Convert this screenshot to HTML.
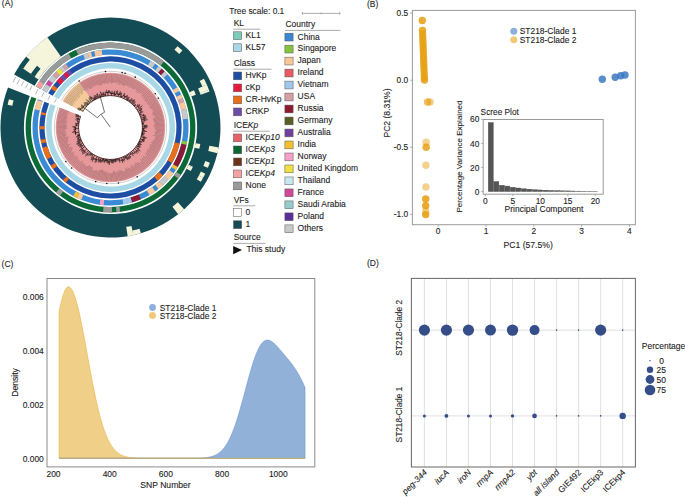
<!DOCTYPE html>
<html><head><meta charset="utf-8"><style>
html,body{margin:0;padding:0;background:#fff;width:685px;height:497px;overflow:hidden}
svg{display:block}
text{font-family:"Liberation Sans",sans-serif;stroke:#1c1c1c;stroke-width:0.1px}
</style></head><body>
<svg width="685" height="497" viewBox="0 0 685 497">
<rect width="685" height="497" fill="#fff"/>
<text x="1.8" y="6.2" font-size="8.5" fill="#1c1c1c">(A)</text>
<path d="M14.11,74.51A110.0,110.0 0 1 1 8.01,87.54L29.82,96.04A86.6,86.6 0 1 0 34.61,85.78Z" fill="#144c56"/>
<path d="M177.50,46.17A105.36999999999999,105.36999999999999 0 0 1 182.39,50.46L179.13,53.96A100.59,100.59 0 0 0 174.46,49.86Z" fill="#f5f5dc"/>
<path d="M203.95,78.81A105.36999999999999,105.36999999999999 0 0 1 206.78,84.68L202.41,86.62A100.59,100.59 0 0 0 199.71,81.02Z" fill="#f5f5dc"/>
<path d="M193.92,90.32A91.33,91.33 0 0 1 195.78,94.80L191.31,96.51A86.55,86.55 0 0 0 189.56,92.27Z" fill="#f5f5dc"/>
<path d="M206.75,84.61A105.36999999999999,105.36999999999999 0 0 1 208.88,89.77L200.05,93.16A95.91,95.91 0 0 0 198.10,88.46Z" fill="#f5f5dc"/>
<path d="M208.86,89.70A105.36999999999999,105.36999999999999 0 0 1 209.53,91.50L200.64,94.73A95.91,95.91 0 0 0 200.03,93.10Z" fill="#f5f5dc"/>
<path d="M200.31,144.11A91.33,91.33 0 0 1 199.30,148.85L194.65,147.73A86.55,86.55 0 0 0 195.61,143.24Z" fill="#f5f5dc"/>
<path d="M218.71,147.52A110.05,110.05 0 0 1 217.50,153.23L208.30,151.02A100.59,100.59 0 0 0 209.41,145.80Z" fill="#f5f5dc"/>
<path d="M209.84,162.64A105.36999999999999,105.36999999999999 0 0 1 207.84,167.86L203.42,166.03A100.59,100.59 0 0 0 205.33,161.04Z" fill="#f5f5dc"/>
<path d="M192.95,166.79A91.33,91.33 0 0 1 192.57,167.57L188.28,165.47A86.55,86.55 0 0 0 188.63,164.73Z" fill="#f5f5dc"/>
<path d="M192.60,167.51A91.33,91.33 0 0 1 190.75,171.11L186.55,168.82A86.55,86.55 0 0 0 188.30,165.41Z" fill="#f5f5dc"/>
<path d="M205.22,173.66A105.36999999999999,105.36999999999999 0 0 1 203.08,177.81L198.88,175.53A100.59,100.59 0 0 0 200.93,171.56Z" fill="#f5f5dc"/>
<path d="M203.12,177.75A105.36999999999999,105.36999999999999 0 0 1 200.80,181.80L196.70,179.34A100.59,100.59 0 0 0 198.92,175.47Z" fill="#f5f5dc"/>
<path d="M184.17,209.26A110.05,110.05 0 0 1 178.22,214.24L172.40,206.79A100.59,100.59 0 0 0 177.83,202.23Z" fill="#f5f5dc"/>
<path d="M140.87,233.28A110.05,110.05 0 0 1 133.34,235.15L132.35,230.48A105.27,105.27 0 0 0 139.55,228.68Z" fill="#f5f5dc"/>
<path d="M133.42,235.14A110.05,110.05 0 0 1 127.68,236.20L126.20,226.86A100.59,100.59 0 0 0 131.45,225.88Z" fill="#f5f5dc"/>
<path d="M7.62,104.73A105.36999999999999,105.36999999999999 0 0 1 8.97,99.31L13.58,100.58A100.59,100.59 0 0 0 12.29,105.76Z" fill="#f5f5dc"/>
<path d="M18.84,66.60A110.05,110.05 0 0 1 47.38,37.35L60.86,56.60A86.55,86.55 0 0 0 38.41,79.60Z" fill="#f5f5dc"/>
<path d="M18.58,66.89A110.1,110.1 0 0 1 19.22,65.93L34.84,76.47A91.26,91.26 0 0 0 34.31,77.26Z" fill="#144c56"/>
<path d="M19.01,66.25A110.1,110.1 0 0 1 26.16,56.73L29.82,59.80A105.32,105.32 0 0 0 22.98,68.91Z" fill="#144c56"/>
<path d="M30.76,74.12A95.96,95.96 0 0 1 36.99,65.82L40.58,68.83A91.28,91.28 0 0 0 34.65,76.72Z" fill="#144c56"/>
<path d="M36.10,86.60A84.9,84.9 0 1 1 31.40,96.66L36.34,98.59A79.6,79.6 0 1 0 40.75,89.15Z" fill="#0b6a36"/>
<path d="M36.24,86.34A84.9,84.9 0 0 1 163.93,61.52L160.59,65.64A79.6,79.6 0 0 0 40.88,88.91Z" fill="#9a9a9a"/>
<path d="M36.24,86.34A84.9,84.9 0 0 1 39.30,81.26L43.74,84.15A79.6,79.6 0 0 0 40.88,88.91Z" fill="#f2a0a0"/>
<path d="M68.69,53.61A84.9,84.9 0 0 1 75.97,49.94L78.12,54.78A79.6,79.6 0 0 0 71.30,58.22Z" fill="#0b6a36"/>
<path d="M180.89,174.98A84.9,84.9 0 0 1 178.30,178.59L174.07,175.40A79.6,79.6 0 0 0 176.49,172.01Z" fill="#9a9a9a"/>
<path d="M120.11,211.85A84.9,84.9 0 0 1 116.42,212.19L116.05,206.91A79.6,79.6 0 0 0 119.51,206.59Z" fill="#9a9a9a"/>
<path d="M111.98,212.39A84.9,84.9 0 0 1 103.10,212.08L103.56,206.80A79.6,79.6 0 0 0 111.89,207.09Z" fill="#9a9a9a"/>
<path d="M60.00,195.75A84.9,84.9 0 0 1 55.93,192.54L59.33,188.48A79.6,79.6 0 0 0 63.15,191.49Z" fill="#9a9a9a"/>
<path d="M42.15,89.92A78.0,78.0 0 1 1 37.83,99.17L42.77,101.09A72.7,72.7 0 1 0 46.79,92.48Z" fill="#3a8ad4"/>
<path d="M42.28,89.68A78.0,78.0 0 0 1 45.84,83.88L50.23,86.85A72.7,72.7 0 0 0 46.92,92.25Z" fill="#c8c8c8"/>
<path d="M45.84,83.88A78.0,78.0 0 0 1 48.62,80.02L52.82,83.24A72.7,72.7 0 0 0 50.23,86.85Z" fill="#d0489a"/>
<path d="M48.62,80.02A78.0,78.0 0 0 1 52.53,75.31L56.47,78.85A72.7,72.7 0 0 0 52.82,83.24Z" fill="#c8c8c8"/>
<path d="M52.53,75.31A78.0,78.0 0 0 1 56.32,71.39L60.00,75.20A72.7,72.7 0 0 0 56.47,78.85Z" fill="#d4a0a4"/>
<path d="M56.32,71.39A78.0,78.0 0 0 1 59.84,68.19L63.29,72.22A72.7,72.7 0 0 0 60.00,75.20Z" fill="#f0e23c"/>
<path d="M59.84,68.19A78.0,78.0 0 0 1 62.48,66.04L65.74,70.21A72.7,72.7 0 0 0 63.29,72.22Z" fill="#c8c8c8"/>
<path d="M62.48,66.04A78.0,78.0 0 0 1 65.76,63.61L68.80,67.95A72.7,72.7 0 0 0 65.74,70.21Z" fill="#d4a0a4"/>
<path d="M83.18,54.44A78.0,78.0 0 0 1 87.70,52.91L89.24,57.98A72.7,72.7 0 0 0 85.04,59.40Z" fill="#c8c8c8"/>
<path d="M87.70,52.91A78.0,78.0 0 0 1 90.97,51.98L92.30,57.12A72.7,72.7 0 0 0 89.24,57.98Z" fill="#f7c99b"/>
<path d="M94.28,51.20A78.0,78.0 0 0 1 101.67,50.00L102.27,55.27A72.7,72.7 0 0 0 95.38,56.39Z" fill="#f7c99b"/>
<path d="M150.67,60.64A78.0,78.0 0 0 1 155.24,63.61L152.20,67.95A72.7,72.7 0 0 0 147.94,65.18Z" fill="#c8c8c8"/>
<path d="M158.52,66.04A78.0,78.0 0 0 1 161.67,68.63L158.20,72.63A72.7,72.7 0 0 0 155.26,70.21Z" fill="#c8c8c8"/>
<path d="M161.67,68.63A78.0,78.0 0 0 1 164.68,71.39L161.00,75.20A72.7,72.7 0 0 0 158.20,72.63Z" fill="#8b1a33"/>
<path d="M164.68,71.39A78.0,78.0 0 0 1 167.55,74.30L163.67,77.92A72.7,72.7 0 0 0 161.00,75.20Z" fill="#c8c8c8"/>
<path d="M177.36,87.33A78.0,78.0 0 0 1 179.37,90.88L174.69,93.37A72.7,72.7 0 0 0 172.82,90.06Z" fill="#f7c99b"/>
<path d="M181.19,94.54A78.0,78.0 0 0 1 182.82,98.28L177.91,100.27A72.7,72.7 0 0 0 176.39,96.78Z" fill="#f7c99b"/>
<path d="M182.82,98.28A78.0,78.0 0 0 1 184.25,102.11L179.24,103.83A72.7,72.7 0 0 0 177.91,100.27Z" fill="#d4a0a4"/>
<path d="M184.25,102.11A78.0,78.0 0 0 1 186.18,108.63L181.04,109.91A72.7,72.7 0 0 0 179.24,103.83Z" fill="#f7c99b"/>
<path d="M186.18,108.63A78.0,78.0 0 0 1 188.00,118.67L182.73,119.27A72.7,72.7 0 0 0 181.04,109.91Z" fill="#c8c8c8"/>
<path d="M187.19,141.71A78.0,78.0 0 0 1 186.50,145.05L181.34,143.85A72.7,72.7 0 0 0 181.98,140.75Z" fill="#8cc43c"/>
<path d="M186.50,145.05A78.0,78.0 0 0 1 177.71,167.09L173.14,164.40A72.7,72.7 0 0 0 181.34,143.85Z" fill="#8b1a33"/>
<path d="M177.71,167.09A78.0,78.0 0 0 1 175.92,169.98L171.47,167.10A72.7,72.7 0 0 0 173.14,164.40Z" fill="#f5c030"/>
<path d="M173.60,173.35A78.0,78.0 0 0 1 168.47,179.69L164.53,176.15A72.7,72.7 0 0 0 169.32,170.23Z" fill="#f7c99b"/>
<path d="M168.47,179.69A78.0,78.0 0 0 1 162.69,185.47L159.15,181.53A72.7,72.7 0 0 0 164.53,176.15Z" fill="#c8c8c8"/>
<path d="M162.69,185.47A78.0,78.0 0 0 1 158.52,188.96L155.26,184.79A72.7,72.7 0 0 0 159.15,181.53Z" fill="#f7c99b"/>
<path d="M155.24,191.39A78.0,78.0 0 0 1 149.50,195.05L146.85,190.46A72.7,72.7 0 0 0 152.20,187.05Z" fill="#f7c99b"/>
<path d="M140.98,199.30A78.0,78.0 0 0 1 132.00,202.48L130.54,197.38A72.7,72.7 0 0 0 138.91,194.42Z" fill="#8b1a33"/>
<path d="M132.00,202.48A78.0,78.0 0 0 1 123.37,204.43L122.50,199.20A72.7,72.7 0 0 0 130.54,197.38Z" fill="#a2c9ec"/>
<path d="M103.70,205.20A78.0,78.0 0 0 1 99.64,204.74L100.38,199.49A72.7,72.7 0 0 0 104.16,199.92Z" fill="#f2a2c8"/>
<path d="M81.28,199.82A78.0,78.0 0 0 1 76.92,197.90L79.20,193.12A72.7,72.7 0 0 0 83.27,194.91Z" fill="#f7c99b"/>
<path d="M76.92,197.90A78.0,78.0 0 0 1 73.28,196.05L75.81,191.39A72.7,72.7 0 0 0 79.20,193.12Z" fill="#f5c030"/>
<path d="M34.66,109.29A78.0,78.0 0 0 1 37.54,99.93L42.49,101.80A72.7,72.7 0 0 0 39.81,110.53Z" fill="#f7c99b"/>
<path d="M48.19,93.25A71.1,71.1 0 1 1 44.26,101.67L49.10,103.56A65.9,65.9 0 1 0 52.75,95.75Z" fill="#1d4ea3"/>
<path d="M50.87,88.78A71.1,71.1 0 0 1 53.35,85.21L57.53,88.30A65.9,65.9 0 0 0 55.23,91.61Z" fill="#e8701c"/>
<path d="M56.44,81.32A71.1,71.1 0 0 1 60.22,77.22L63.90,80.90A65.9,65.9 0 0 0 60.39,84.70Z" fill="#e31b3e"/>
<path d="M60.22,77.22A71.1,71.1 0 0 1 63.39,74.25L66.83,78.14A65.9,65.9 0 0 0 63.90,80.90Z" fill="#6d4ba6"/>
<path d="M63.39,74.25A71.1,71.1 0 0 1 66.24,71.86L69.48,75.93A65.9,65.9 0 0 0 66.83,78.14Z" fill="#e31b3e"/>
<path d="M66.24,71.86A71.1,71.1 0 0 1 69.21,69.62L72.23,73.85A65.9,65.9 0 0 0 69.48,75.93Z" fill="#6d4ba6"/>
<path d="M179.78,143.49A71.1,71.1 0 0 1 172.07,163.05L167.57,160.45A65.9,65.9 0 0 0 174.71,142.32Z" fill="#e8701c"/>
<path d="M162.92,175.53A71.1,71.1 0 0 1 157.61,180.75L154.17,176.86A65.9,65.9 0 0 0 159.09,172.02Z" fill="#e8701c"/>
<path d="M65.76,182.76A71.1,71.1 0 0 1 62.92,180.34L66.40,176.47A65.9,65.9 0 0 0 69.03,178.71Z" fill="#e8701c"/>
<path d="M52.98,169.29A71.1,71.1 0 0 1 50.53,165.70L54.92,162.91A65.9,65.9 0 0 0 57.19,166.24Z" fill="#e8701c"/>
<path d="M46.87,159.22A71.1,71.1 0 0 1 42.33,147.69L47.31,146.22A65.9,65.9 0 0 0 51.52,156.90Z" fill="#e8701c"/>
<path d="M41.22,143.49A71.1,71.1 0 0 1 40.48,139.85L45.60,138.94A65.9,65.9 0 0 0 46.29,142.32Z" fill="#e8701c"/>
<path d="M39.42,129.36A71.1,71.1 0 0 1 39.41,126.26L44.61,126.35A65.9,65.9 0 0 0 44.62,129.23Z" fill="#e8701c"/>
<path d="M40.59,114.54A71.1,71.1 0 0 1 41.09,112.11L46.16,113.24A65.9,65.9 0 0 0 45.70,115.49Z" fill="#e8701c"/>
<path d="M53.98,96.43A64.5,64.5 0 1 1 50.41,104.07L55.53,106.07A59.0,59.0 0 1 0 58.80,99.08Z" fill="#a8d8e6"/>
<path d="M79.07,82.61A54.8,54.8 0 1 1 59.44,107.59L81.15,116.06A31.5,31.5 0 1 0 92.43,101.70Z" fill="#e6989b"/>
<path d="M62.48,101.10A54.8,54.8 0 0 1 79.07,82.61L91.86,100.88A32.5,32.5 0 0 0 82.02,111.84Z" fill="#f5c99a"/>
<path d="M72.23,105.85L63.67,101.01M73.21,105.19L64.34,99.87M72.50,103.48L65.02,98.75M74.55,103.52L65.74,97.65M74.00,101.85L66.48,96.56M75.05,101.27L67.25,95.50M76.43,100.98L68.05,94.45M76.05,99.30L68.87,93.42M77.81,99.39L69.71,92.42M77.63,97.80L70.58,91.43M79.16,97.76L71.47,90.47M79.85,96.96L72.39,89.52M79.91,95.49L73.33,88.60M79.89,93.86L74.29,87.71M82.10,94.72L75.27,86.84M82.72,93.80L76.28,85.99M82.81,92.18L77.30,85.16M83.10,90.74L78.35,84.36M84.65,90.99L79.41,83.59M85.85,90.82L80.49,82.85M85.82,88.76L81.59,82.13M88.22,90.56L82.71,81.43M87.92,87.91L83.84,80.77M89.70,88.87L84.99,80.13M90.85,88.77L86.16,79.52M91.84,88.37L87.34,78.94M92.56,87.40L88.53,78.39M92.96,85.57L89.74,77.87M94.68,86.93L90.96,77.38M95.27,85.43L92.19,76.91M96.25,84.90L93.43,76.48M97.53,85.33L94.68,76.08M98.42,84.52L95.94,75.71M99.83,85.65L97.21,75.37M100.86,85.41L98.49,75.06M101.80,84.76L99.77,74.78M102.60,83.16L101.07,74.53M103.80,83.73L102.36,74.32M104.92,83.91L103.66,74.14M105.90,82.98L104.97,73.98M107.02,83.28L106.28,73.87M108.13,83.66L107.59,73.78M109.15,82.14L108.90,73.72M110.26,82.40L110.22,73.70M111.34,83.78L111.53,73.71M112.45,82.82L112.85,73.75M113.53,83.03L114.16,73.82M114.71,82.07L115.47,73.93M115.77,82.62L116.78,74.07M116.68,84.07L118.08,74.24M118.08,82.19L119.38,74.44M118.70,84.93L120.67,74.67M119.93,84.26L121.96,74.93M121.22,83.52L123.24,75.23M121.82,85.54L124.52,75.56M123.13,84.86L125.78,75.92M123.75,86.47L127.04,76.30M125.37,85.02L128.28,76.72M126.51,85.13L129.52,77.17M127.32,86.07L130.74,77.65M128.69,85.66L131.95,78.16M129.00,87.64L133.15,78.70M130.48,87.08L134.34,79.27M131.32,87.85L135.51,79.87M132.26,88.41L136.66,80.49M133.02,89.27L137.81,81.14M134.55,88.85L138.93,81.83M135.66,89.19L140.04,82.53M135.79,90.98L141.13,83.27M137.01,91.15L142.20,84.03M136.79,93.24L143.25,84.82M138.82,92.40L144.28,85.63M139.57,93.22L145.30,86.47M141.09,93.17L146.29,87.33M141.57,94.30L147.26,88.22M141.24,96.22L148.21,89.13M142.21,96.77L149.14,90.06M143.58,96.98L150.04,91.02M142.86,99.08L150.92,91.99M144.55,99.03L151.77,92.99M144.55,100.42L152.60,94.01M145.08,101.35L153.41,95.05M145.56,102.30L154.19,96.11M147.93,101.97L154.94,97.18M146.93,103.93L155.67,98.28M147.80,104.64L156.37,99.39M148.72,105.35L157.05,100.52M150.51,105.59L157.69,101.66M148.93,107.67L158.31,102.82M150.39,108.13L158.90,104.00M151.13,108.98L159.46,105.19M152.49,109.59L159.99,106.39M152.74,110.69L160.49,107.61M153.26,111.68L160.96,108.83M151.97,113.30L161.40,110.07M152.70,114.20L161.81,111.32M152.85,115.28L162.19,112.58M154.66,115.92L162.54,113.85M155.14,116.95L162.86,115.12M153.02,118.54L163.14,116.41M153.30,119.57L163.40,117.70M153.65,120.59L163.62,118.99M153.81,121.64L163.81,120.29M154.69,122.62L163.98,121.60M155.10,123.68L164.10,122.90M154.21,124.83L164.20,124.22M153.48,125.92L164.26,125.53M154.75,126.96L164.30,126.84M154.60,128.04L164.30,128.16M155.17,129.14L164.26,129.47M156.27,130.30L164.20,130.78M155.41,131.35L164.10,132.10M154.78,132.39L163.98,133.40M154.95,133.51L163.81,134.71M154.96,134.62L163.62,136.01M152.94,135.37L163.40,137.30M155.22,136.92L163.14,138.59M154.62,137.93L162.86,139.88M154.63,139.08L162.54,141.15M154.11,140.09L162.19,142.42M152.63,140.78L161.81,143.68M152.31,141.82L161.40,144.93M151.12,142.53L160.96,146.17M152.22,144.10L160.49,147.39M150.22,144.44L159.99,148.61M149.81,145.42L159.46,149.81M149.74,146.56L158.90,151.00M149.14,147.45L158.31,152.18M149.11,148.64L157.69,153.34M147.84,149.14L157.05,154.48M147.16,149.97L156.37,155.61M146.98,151.10L155.67,156.72M146.27,151.90L154.94,157.82M146.31,153.23L154.19,158.89M144.86,153.48L153.41,159.95M146.20,155.90L152.60,160.99M144.90,156.26L151.77,162.01M143.14,156.17L150.92,163.01M142.66,157.17L150.04,163.98M142.13,158.15L149.14,164.94M141.40,158.95L148.21,165.87M140.13,159.17L147.26,166.78M140.80,161.51L146.29,167.67M140.24,162.57L145.30,168.53M138.38,162.05L144.28,169.37M137.56,162.77L143.25,170.18M135.99,162.45L142.20,170.97M135.15,163.10L141.13,171.73M134.67,164.30L140.04,172.47M133.64,164.68L138.93,173.17M133.59,166.69L137.81,173.86M131.65,165.50L136.66,174.51M130.52,165.63L135.51,175.13M130.82,168.61L134.34,175.73M129.27,167.94L133.15,176.30M127.82,167.34L131.95,176.84M127.29,168.85L130.74,177.35M125.73,167.80L129.52,177.83M125.24,169.58L128.28,178.28M124.62,171.21L127.04,178.70M123.45,171.21L125.78,179.08M122.25,171.03L124.52,179.44M120.87,170.04L123.24,179.77M119.89,170.59L121.96,180.07M118.73,170.22L120.67,180.33M117.98,172.19L119.38,180.56M116.78,171.65L118.08,180.76M115.79,172.53L116.78,180.93M114.56,171.30L115.47,181.07M113.47,171.07L114.16,181.18M112.48,172.89L112.85,181.25M111.38,173.45L111.53,181.29M110.26,173.06L110.22,181.30M109.15,172.90L108.90,181.28M108.04,172.89L107.59,181.22M106.95,172.58L106.28,181.13M106.01,170.95L104.97,181.02M104.84,171.69L103.66,180.86M103.83,171.06L102.36,180.68M102.94,169.92L101.07,180.47M101.91,169.72L99.77,180.22M100.71,170.23L98.49,179.94M99.69,169.92L97.21,179.63M98.30,170.90L95.94,179.29M97.01,171.34L94.68,178.92M96.43,169.55L93.43,178.52M94.91,170.58L92.19,178.09M93.80,170.32L90.96,177.62M92.80,169.81L89.74,177.13M92.50,167.75L88.53,176.61M91.70,166.91L87.34,176.06M90.74,166.45L86.16,175.48M89.83,165.88L84.99,174.87M88.89,165.38L83.84,174.23M87.32,165.92L82.71,173.57M85.94,166.04L81.59,172.87M85.11,165.28L80.49,172.15M84.82,163.77L79.41,171.41M83.63,163.55L78.35,170.64M82.49,163.23L77.30,169.84M82.99,160.88L76.28,169.01M81.05,161.50L75.27,168.16M79.72,161.32L74.29,167.29M79.17,160.28L73.33,166.40M78.45,159.44L72.39,165.48M78.27,158.09L71.47,164.53M78.20,156.69L70.58,163.57M76.11,157.08L69.71,162.58M76.45,155.37L68.87,161.58M74.67,155.39L68.05,160.55M73.59,154.81L67.25,159.50M74.35,152.91L66.48,158.44M73.72,152.03L65.74,157.35M71.75,151.99L65.02,156.25M71.74,150.70L64.34,155.13M72.63,148.93L63.67,153.99M72.23,147.93L63.04,152.84M71.68,147.02L62.44,151.67M69.17,147.04L61.86,150.49M68.98,145.90L61.31,149.30M70.37,144.12L60.80,148.09M68.07,143.87L60.31,146.87M67.25,142.99L59.85,145.64M67.80,141.62L59.42,144.39M68.35,140.31L59.02,143.14M67.48,139.43L58.66,141.88M68.41,138.07L58.32,140.61M68.51,136.96L58.02,139.33M65.48,136.50L57.74,138.04M66.22,135.23L57.50,136.75M66.41,134.09L57.29,135.45M65.05,133.16L57.11,134.15M66.42,131.90L56.97,132.84M65.01,130.92L56.85,131.53M65.08,129.80L56.77,130.22M66.88,128.64L56.72,128.91M66.74,127.58L56.70,127.59M66.63,126.50L56.71,126.28M66.83,125.44L56.76,124.97M65.86,124.30L56.84,123.65M66.92,123.30L56.95,122.34M66.56,122.18L57.09,121.04M67.56,121.24L57.26,119.73M65.42,119.79L57.47,118.44M67.26,119.02L57.71,117.14M67.18,117.90L57.98,115.86M67.06,116.75L58.28,114.58M66.41,115.44L58.61,113.30M68.10,114.78L58.97,112.04M67.01,113.29L59.36,110.79M68.55,112.64L59.79,109.54M68.84,111.59L60.24,108.31" stroke="#2a1a1c" stroke-width="0.4" opacity="0.55"/>
<path d="M83.13,111.12L80.56,109.58M80.13,110.32L77.31,108.72M80.56,109.58L77.98,108.04M81.00,108.85L79.36,107.81M84.86,108.53L83.12,107.24M82.16,108.60L81.25,108.00M82.63,107.91L80.88,106.68M83.12,107.24L81.10,105.74M83.62,106.58L81.23,104.71M84.14,105.93L83.52,105.42M86.57,106.40L85.95,105.86M85.69,106.16L84.00,104.71M86.22,105.56L83.73,103.31M88.18,104.71L87.81,104.33M86.98,105.18L84.34,102.67M87.53,104.61L84.99,102.08M88.10,104.06L86.31,102.18M88.68,103.52L87.01,101.69M89.91,103.13L88.45,101.40M88.13,101.67L86.06,99.28M88.77,101.13L88.32,100.59M90.82,102.40L90.22,101.63M90.22,101.63L89.43,100.63M91.44,101.92L89.80,99.73M89.80,99.73L88.88,98.49M92.71,101.02L91.08,98.59M90.37,99.08L89.13,97.31M91.08,98.59L89.65,96.48M91.79,98.13L90.66,96.36M95.03,99.60L94.72,99.03M93.68,99.62L92.34,97.40M94.37,99.22L93.48,97.66M95.07,98.84L93.99,96.84M95.77,98.47L94.20,95.36M96.77,98.71L95.68,96.43M95.68,96.43L95.03,95.07M97.83,98.22L97.06,96.44M96.68,96.61L96.44,96.07M97.44,96.28L96.55,94.16M98.91,97.78L98.33,96.29M98.33,96.29L97.16,93.30M100.38,97.25L100.19,96.68M99.44,96.94L99.25,96.42M100.19,96.68L99.33,94.13M100.94,96.44L100.60,95.31M101.87,96.79L101.38,95.05M101.38,95.05L100.39,91.55M103.38,96.41L103.01,94.79M102.21,94.98L101.64,92.74M103.01,94.79L102.75,93.68M103.81,94.61L103.28,92.01M105.29,96.03L105.18,95.38M104.79,95.44L104.52,93.90M105.57,95.31L105.03,91.77M108.00,95.70L107.75,92.54M106.04,92.72L105.93,91.79M106.90,92.62L106.61,89.87M107.75,92.54L107.71,92.01M108.60,92.48L108.50,90.50M109.46,92.45L109.40,90.39M111.50,95.62L111.57,93.54M110.32,93.52L110.31,91.59M111.15,93.53L111.17,92.42M111.98,93.55L112.11,90.72M112.81,93.60L112.87,92.68M114.61,95.87L114.81,94.33M113.59,94.19L113.75,92.44M114.40,94.28L114.83,90.63M115.21,94.38L115.28,93.89M116.02,94.51L116.56,91.29M118.06,96.51L118.57,94.39M116.94,94.04L117.64,90.41M117.76,94.20L117.88,93.65M118.57,94.39L118.83,93.32M119.38,94.60L120.34,91.04M120.18,94.83L120.87,92.50M121.04,97.39L121.28,96.73M120.52,96.48L121.65,92.99M121.28,96.73L121.67,95.62M122.02,97.00L122.49,95.76M123.93,98.57L124.87,96.54M123.34,95.88L124.53,92.95M124.11,96.20L124.80,94.61M124.87,96.54L125.18,95.87M125.62,96.90L126.14,95.85M126.37,97.28L127.54,95.03M126.01,99.63L127.09,97.70M127.09,97.70L127.91,96.22M127.36,100.42L127.77,99.75M127.09,99.34L128.29,97.29M127.77,99.75L129.44,97.07M128.44,100.18L128.96,99.40M129.30,101.73L129.85,100.96M129.20,100.49L129.77,99.68M129.85,100.96L131.86,98.21M130.50,101.44L132.39,98.97M130.83,102.92L132.48,100.94M132.15,100.67L132.78,99.89M132.80,101.21L134.42,99.29M132.30,104.21L132.97,103.49M132.38,102.94L134.73,100.30M132.97,103.49L135.24,101.06M133.55,104.04L135.26,102.31M133.94,105.87L134.34,105.50M133.80,104.92L134.41,104.33M134.34,105.50L135.91,104.05M134.87,106.09L135.86,105.22M135.71,107.95L137.69,106.41M136.90,105.43L137.92,104.58M137.43,106.08L139.89,104.12M137.95,106.74L139.87,105.29M138.45,107.42L139.62,106.58M137.07,109.85L139.73,108.08M139.49,107.73L142.48,105.68M139.96,108.44L140.72,107.95M138.10,111.50L139.90,110.46M139.47,109.75L142.22,108.06M139.90,110.46L142.03,109.22M140.30,111.18L141.53,110.51M139.02,113.22L141.39,112.03M141.20,111.66L141.84,111.32M141.58,112.41L143.21,111.62M139.69,114.63L140.22,114.39M140.06,114.03L141.02,113.59M140.38,114.76L141.92,114.10M140.42,116.43L143.53,115.28M143.22,114.48L143.96,114.18M143.53,115.28L144.42,114.95M143.82,116.09L145.66,115.46M141.04,118.28L143.31,117.59M143.18,117.19L145.77,116.38M143.43,118.00L145.70,117.34M141.45,119.78L143.56,119.26M143.45,118.85L146.80,117.98M143.66,119.66L145.62,119.20M141.79,121.30L144.25,120.82M144.16,120.41L147.67,119.67M144.33,121.23L144.89,121.13M142.16,123.61L142.78,123.54M142.62,122.36L143.32,122.24M142.73,123.14L144.21,122.94M142.83,123.93L143.76,123.83M142.91,124.72L143.63,124.66M142.38,126.33L144.42,126.26M144.37,125.43L147.23,125.25M144.42,126.26L147.79,126.13M144.44,127.09L147.29,127.05M142.36,129.06L143.15,129.10M143.19,127.90L146.77,127.94M143.17,128.70L144.76,128.76M143.13,129.50L143.90,129.54M143.07,130.29L145.08,130.46M142.21,131.00L145.20,131.33M145.20,131.33L147.03,131.53M141.87,133.31L142.35,133.40M142.60,131.84L144.68,132.12M142.48,132.62L143.02,132.71M142.35,133.40L144.92,133.88M142.19,134.18L143.87,134.53M142.02,134.95L142.55,135.08M141.36,135.59L141.98,135.76M141.98,135.76L144.44,136.40M141.04,136.72L143.95,137.60M144.07,137.19L146.79,137.97M143.82,138.01L145.48,138.53M140.28,138.93L142.60,139.82M143.03,138.64L144.89,139.27M142.75,139.43L144.60,140.12M142.45,140.21L144.52,141.04M142.13,140.99L144.11,141.84M139.20,141.43L139.64,141.65M139.97,140.93L142.18,141.94M139.64,141.65L141.47,142.54M139.28,142.36L140.38,142.92M137.90,143.83L138.54,144.21M139.13,143.17L141.76,144.61M138.74,143.87L141.00,145.18M138.33,144.55L140.08,145.63M137.90,145.23L140.73,147.06M136.63,145.80L137.70,146.54M137.93,146.21L140.13,147.72M137.46,146.88L138.40,147.55M135.71,147.05L137.81,148.68M138.07,148.35L139.34,149.31M137.55,149.01L140.27,151.18M134.47,148.55L136.78,150.58M137.33,149.93L138.52,150.93M136.78,150.58L138.75,152.32M136.20,151.22L137.04,151.99M132.86,150.25L134.83,152.26M135.43,151.66L137.52,153.68M134.83,152.26L135.63,153.07M134.22,152.84L135.03,153.71M131.43,151.58L132.84,153.20M133.15,152.92L134.16,154.05M132.52,153.47L133.13,154.18M129.92,152.81L130.80,153.96M131.44,153.46L133.56,156.08M130.80,153.96L131.19,154.46M130.15,154.45L130.57,155.02M128.34,153.95L129.94,156.32M130.29,156.08L130.78,156.79M129.59,156.56L130.69,158.24M127.03,154.79L128.52,157.26M128.89,157.04L129.80,158.50M128.16,157.48L129.26,159.34M124.98,155.92L125.59,157.12M126.67,156.55L128.22,159.33M125.95,156.94L127.65,160.16M125.23,157.30L126.09,159.05M124.50,157.66L124.81,158.33M123.22,156.75L123.71,157.89M123.71,157.89L124.69,160.13M121.41,157.48L122.27,159.85M123.45,159.40L124.33,161.55M122.67,159.70L123.19,161.10M121.88,159.99L122.88,162.85M121.08,160.26L121.25,160.79M119.19,158.19L119.63,159.75M120.02,159.64L120.33,160.70M119.23,159.86L120.00,162.72M117.68,158.58L117.93,159.67M118.32,159.57L118.54,160.50M117.53,159.75L117.67,160.39M115.38,159.02L115.49,159.76M116.67,159.56L116.83,160.39M115.89,159.70L116.25,161.88M115.10,159.82L115.46,162.34M114.31,159.92L114.50,161.59M113.45,159.26L113.67,161.71M113.67,161.71L113.78,162.84M111.89,159.37L111.94,160.54M112.75,160.49L112.94,163.27M111.94,160.54L112.07,163.45M111.13,160.56L111.18,162.77M110.33,159.40L110.33,160.34M110.33,160.34L110.32,161.71M109.16,159.37L109.08,161.39M109.49,161.40L109.39,164.93M108.67,161.37L108.55,163.47M106.45,159.14L106.34,160.01M107.93,160.18L107.68,163.38M107.13,160.10L106.85,162.83M106.34,160.01L106.18,161.22M105.54,159.90L105.27,161.69M104.75,159.77L104.16,163.07M103.38,158.59L103.20,159.36M103.98,159.53L103.59,161.45M103.20,159.36L102.64,161.80M102.43,159.18L101.58,162.48M101.12,157.99L100.52,159.95M101.31,160.18L100.61,162.68M100.52,159.95L99.90,161.96M99.73,159.70L98.74,162.66M99.28,157.36L98.65,159.04M99.03,159.18L98.15,161.61M98.26,158.89L97.84,159.97M97.12,156.46L95.86,159.18M97.03,159.70L95.85,162.51M96.25,159.36L94.84,162.51M95.48,159.00L95.09,159.81M94.71,158.62L94.13,159.76M94.69,155.21L93.04,158.11M93.79,158.53L92.07,161.72M93.04,158.11L91.94,160.04M92.30,157.68L90.73,160.27M93.03,154.19L92.38,155.18M92.72,155.40L91.22,157.76M92.05,154.96L91.74,155.42M91.44,153.08L91.05,153.60M91.69,154.06L90.59,155.62M91.05,153.60L89.70,155.41M90.42,153.11L88.59,155.44M89.61,151.61L87.55,154.00M88.20,154.55L87.44,155.48M87.55,154.00L85.40,156.48M86.90,153.43L85.64,154.82M88.46,150.56L87.83,151.23M87.83,151.23L86.74,152.36M86.83,148.89L84.50,151.00M85.67,152.24L84.25,153.66M85.08,151.63L82.39,154.17M84.50,151.00L81.99,153.26M83.93,150.35L82.29,151.76M83.38,149.70L81.31,151.39M84.86,146.47L82.25,148.40M82.77,149.08L81.14,150.36M82.25,148.40L79.41,150.50M81.75,147.70L81.12,148.15M83.75,144.87L82.31,145.81M82.53,146.15L80.63,147.42M82.08,145.46L79.41,147.15M82.74,143.21L80.72,144.35M81.14,145.07L79.28,146.19M80.72,144.35L77.93,145.92M80.32,143.62L78.29,144.70M81.83,141.48L79.66,142.54M79.84,142.92L76.67,144.52M79.48,142.16L76.51,143.57M81.03,139.71L80.08,140.10M80.40,140.84L77.45,142.14M80.08,140.10L76.76,141.48M79.78,139.35L77.75,140.14M80.21,137.52L78.42,138.11M78.68,138.89L76.98,139.50M78.42,138.11L77.59,138.38M78.17,137.32L77.67,137.47M79.56,135.27L79.09,135.39M79.29,136.15L75.82,137.12M79.09,135.39L77.01,135.91M78.91,134.62L77.17,135.01M78.95,132.22L75.62,132.71M75.92,134.41L75.04,134.59M75.76,133.56L74.97,133.70M75.62,132.71L74.60,132.87M75.50,131.86L72.05,132.29M75.41,131.00L73.45,131.20M78.61,128.34L75.44,128.42M75.53,130.13L74.17,130.23M75.47,129.27L73.46,129.38M75.44,128.42L74.54,128.44M75.43,127.56L73.54,127.56M75.44,126.70L72.33,126.63M78.68,125.22L76.71,125.08M76.66,125.90L75.82,125.86M76.71,125.08L74.87,124.95M76.78,124.25L76.19,124.20M78.88,123.28L78.10,123.18M78.05,123.57L75.08,123.21M78.15,122.78L77.59,122.70M79.12,121.74L78.27,121.59M78.20,121.98L77.67,121.89M78.35,121.19L76.96,120.92M79.63,119.46L78.21,119.09M77.92,120.28L75.50,119.74M78.11,119.48L77.30,119.28M78.32,118.70L75.58,117.95M78.54,117.91L77.69,117.66M80.43,116.85L78.29,116.09M78.02,116.88L75.36,116.02M78.29,116.09L75.70,115.18M78.58,115.31L75.48,114.13" stroke="#000" stroke-width="0.6" opacity="1" fill="none"/>
<path d="M80.13,110.32A34.90,34.90 0 0 1 81.00,108.85M82.16,108.60A34.06,34.06 0 0 1 84.14,105.93M85.69,106.16A32.73,32.73 0 0 1 86.22,105.56M86.98,105.18A32.43,32.43 0 0 1 88.68,103.52M88.13,101.67A34.17,34.17 0 0 1 88.77,101.13M90.37,99.08A34.83,34.83 0 0 1 91.79,98.13M93.68,99.62A32.55,32.55 0 0 1 95.77,98.47M96.68,96.61A33.84,33.84 0 0 1 97.44,96.28M99.44,96.94A32.50,32.50 0 0 1 100.94,96.44M102.21,94.98A33.56,33.56 0 0 1 103.81,94.61M104.79,95.44A32.56,32.56 0 0 1 105.57,95.31M106.04,92.72A35.07,35.07 0 0 1 109.46,92.45M110.32,93.52A33.98,33.98 0 0 1 112.81,93.60M113.59,94.19A33.45,33.45 0 0 1 116.02,94.51M116.94,94.04A34.08,34.08 0 0 1 120.18,94.83M120.52,96.48A32.60,32.60 0 0 1 122.02,97.00M123.34,95.88A34.13,34.13 0 0 1 126.37,97.28M127.09,99.34A32.68,32.68 0 0 1 128.44,100.18M129.20,100.49A32.85,32.85 0 0 1 130.50,101.44M132.15,100.67A34.48,34.48 0 0 1 132.80,101.21M132.38,102.94A32.89,32.89 0 0 1 133.55,104.04M133.80,104.92A32.44,32.44 0 0 1 134.87,106.09M136.90,105.43A34.41,34.41 0 0 1 138.45,107.42M139.49,107.73A35.09,35.09 0 0 1 139.96,108.44M139.47,109.75A33.98,33.98 0 0 1 140.30,111.18M141.20,111.66A34.55,34.55 0 0 1 141.58,112.41M140.06,114.03A32.48,32.48 0 0 1 140.38,114.76M143.22,114.48A35.22,35.22 0 0 1 143.82,116.09M143.18,117.19A34.27,34.27 0 0 1 143.43,118.00M143.45,118.85A34.07,34.07 0 0 1 143.66,119.66M144.16,120.41A34.40,34.40 0 0 1 144.33,121.23M142.62,122.36A32.52,32.52 0 0 1 142.91,124.72M144.37,125.43A33.94,33.94 0 0 1 144.44,127.09M143.19,127.90A32.69,32.69 0 0 1 143.07,130.29M142.60,131.84A32.39,32.39 0 0 1 142.02,134.95M144.07,137.19A34.94,34.94 0 0 1 143.82,138.01M143.03,138.64A34.38,34.38 0 0 1 142.13,140.99M139.97,140.93A32.39,32.39 0 0 1 139.28,142.36M139.13,143.17A32.64,32.64 0 0 1 137.90,145.23M137.93,146.21A33.20,33.20 0 0 1 137.46,146.88M138.07,148.35A34.56,34.56 0 0 1 137.55,149.01M137.33,149.93A34.98,34.98 0 0 1 136.20,151.22M135.43,151.66A34.71,34.71 0 0 1 134.22,152.84M133.15,152.92A34.05,34.05 0 0 1 132.52,153.47M131.44,153.46A33.35,33.35 0 0 1 130.15,154.45M130.29,156.08A34.77,34.77 0 0 1 129.59,156.56M128.89,157.04A34.79,34.79 0 0 1 128.16,157.48M126.67,156.55A33.25,33.25 0 0 1 124.50,157.66M123.45,159.40A34.43,34.43 0 0 1 121.08,160.26M120.02,159.64A33.52,33.52 0 0 1 119.23,159.86M118.32,159.57A33.01,33.01 0 0 1 117.53,159.75M116.67,159.56A32.65,32.65 0 0 1 114.31,159.92M112.75,160.49A33.07,33.07 0 0 1 111.13,160.56M109.49,161.40A33.92,33.92 0 0 1 108.67,161.37M107.93,160.18A32.78,32.78 0 0 1 104.75,159.77M103.98,159.53A32.69,32.69 0 0 1 102.43,159.18M101.31,160.18A33.95,33.95 0 0 1 99.73,159.70M99.03,159.18A33.69,33.69 0 0 1 98.26,158.89M97.03,159.70A34.90,34.90 0 0 1 94.71,158.62M93.79,158.53A35.24,35.24 0 0 1 92.30,157.68M92.72,155.40A33.09,33.09 0 0 1 92.05,154.96M91.69,154.06A32.55,32.55 0 0 1 90.42,153.11M88.20,154.55A35.06,35.06 0 0 1 86.90,153.43M85.67,152.24A35.05,35.05 0 0 1 83.38,149.70M82.77,149.08A35.14,35.14 0 0 1 81.75,147.70M82.53,146.15A33.62,33.62 0 0 1 82.08,145.46M81.14,145.07A34.22,34.22 0 0 1 80.32,143.62M79.84,142.92A34.31,34.31 0 0 1 79.48,142.16M80.40,140.84A32.92,32.92 0 0 1 79.78,139.35M78.68,138.89A33.79,33.79 0 0 1 78.17,137.32M79.29,136.15A32.38,32.38 0 0 1 78.91,134.62M75.92,134.41A35.27,35.27 0 0 1 75.41,131.00M75.53,130.13A35.07,35.07 0 0 1 75.44,126.70M76.66,125.90A33.87,33.87 0 0 1 76.78,124.25M78.05,123.57A32.69,32.69 0 0 1 78.15,122.78M78.20,121.98A32.77,32.77 0 0 1 78.35,121.19M77.92,120.28A33.37,33.37 0 0 1 78.54,117.91M78.02,116.88A34.17,34.17 0 0 1 78.58,115.31" stroke="#000" stroke-width="0.7" opacity="1" fill="none"/>
<path d="M82.74,111.79A31.9,31.9 0 1 1 80.64,116.28" fill="none" stroke="#000" stroke-width="0.7" opacity="0.85"/>
<line x1="110.33" y1="127.26" x2="100.95" y2="114.17" stroke="#333" stroke-width="0.7"/>
<path d="M97.32,117.74A16.4,16.4 0 0 1 104.54,112.22" fill="none" stroke="#333" stroke-width="0.7"/>
<line x1="97.32" y1="117.74" x2="84.51" y2="107.99" stroke="#333" stroke-width="0.7"/>
<line x1="104.54" y1="112.22" x2="100.35" y2="97.15" stroke="#333" stroke-width="0.7"/>
<path d="M61.25,100.43A56.2,56.2 0 1 1 58.14,107.09" fill="none" stroke="#777" stroke-width="0.35"/>
<circle cx="79.13" cy="80.99" r="0.8" fill="#111"/>
<circle cx="105.51" cy="71.62" r="0.8" fill="#111"/>
<circle cx="122.16" cy="72.63" r="0.8" fill="#111"/>
<circle cx="125.11" cy="73.34" r="0.8" fill="#111"/>
<circle cx="135.27" cy="77.16" r="0.8" fill="#111"/>
<circle cx="155.30" cy="93.74" r="0.8" fill="#111"/>
<circle cx="158.33" cy="98.19" r="0.8" fill="#111"/>
<circle cx="137.18" cy="176.85" r="0.8" fill="#111"/>
<circle cx="118.40" cy="183.04" r="0.8" fill="#111"/>
<circle cx="106.78" cy="183.48" r="0.8" fill="#111"/>
<circle cx="95.70" cy="181.61" r="0.8" fill="#111"/>
<circle cx="71.67" cy="167.99" r="0.8" fill="#111"/>
<circle cx="65.87" cy="161.50" r="0.8" fill="#111"/>
<path d="M15.58,77.03L12.91,82.41M19.56,79.14L17.00,84.30M23.71,81.35L21.27,86.27M27.86,83.56L25.53,88.24M32.01,85.76L29.80,90.21M38.10,89.00L35.59,94.15M44.01,92.15L41.71,96.87M50.19,95.44L48.10,99.72M56.46,98.77L54.59,102.61" stroke="#8a8484" stroke-width="0.8" opacity="0.75"/>
<text x="229.2" y="14.1" font-size="8.4" text-anchor="start" fill="#1c1c1c">Tree scale: 0.1</text>
<path d="M302.4,13.4H339.8M302.4,11.9V14.9M339.8,11.9V14.9M321.1,12.6V14.2" stroke="#777" stroke-width="0.6" fill="none"/>
<text x="233.7" y="26.0" font-size="8.5" text-anchor="start" fill="#1c1c1c">KL</text>
<line x1="233.39999999999998" y1="29.2" x2="260.2" y2="29.2" stroke="#aaa" stroke-width="1"/>
<rect x="233.5" y="31.8" width="8.2" height="7.8" fill="#7ecbba" stroke="#555" stroke-width="0.5"/>
<text x="245.6" y="38.1" font-size="8.5" text-anchor="start" fill="#1c1c1c">KL1</text>
<rect x="233.5" y="43.8" width="8.2" height="7.8" fill="#a8d8e6" stroke="#555" stroke-width="0.5"/>
<text x="245.6" y="50.099999999999994" font-size="8.5" text-anchor="start" fill="#1c1c1c">KL57</text>
<text x="233.7" y="65.9" font-size="8.5" text-anchor="start" fill="#1c1c1c">Class</text>
<line x1="233.39999999999998" y1="69.2" x2="271.5" y2="69.2" stroke="#aaa" stroke-width="1"/>
<rect x="233.5" y="72.0" width="8.2" height="7.8" fill="#1d4ea3" stroke="#555" stroke-width="0.5"/>
<text x="245.6" y="78.3" font-size="8.5" text-anchor="start" fill="#1c1c1c">HvKp</text>
<rect x="233.5" y="84.0" width="8.2" height="7.8" fill="#e31b3e" stroke="#555" stroke-width="0.5"/>
<text x="245.6" y="90.3" font-size="8.5" text-anchor="start" fill="#1c1c1c">cKp</text>
<rect x="233.5" y="96.0" width="8.2" height="7.8" fill="#e8701c" stroke="#555" stroke-width="0.5"/>
<text x="245.6" y="102.3" font-size="8.5" text-anchor="start" fill="#1c1c1c">CR-HvKp</text>
<rect x="233.5" y="108.0" width="8.2" height="7.8" fill="#6d4ba6" stroke="#555" stroke-width="0.5"/>
<text x="245.6" y="114.3" font-size="8.5" text-anchor="start" fill="#1c1c1c">CRKP</text>
<text x="233.7" y="128.0" font-size="8.5" fill="#1c1c1c">ICE<tspan font-style="italic">Kp</tspan></text>
<line x1="233.4" y1="131.2" x2="269.8" y2="131.2" stroke="#aaa" stroke-width="1"/>
<rect x="233.5" y="134.0" width="8.2" height="7.8" fill="#e8626a" stroke="#555" stroke-width="0.5"/>
<text x="245.6" y="140.3" font-size="8.5" fill="#1c1c1c">ICE<tspan font-style="italic">Kp10</tspan></text>
<rect x="233.5" y="146.0" width="8.2" height="7.8" fill="#0a6632" stroke="#555" stroke-width="0.5"/>
<text x="245.6" y="152.3" font-size="8.5" fill="#1c1c1c">ICE<tspan font-style="italic">Kp3</tspan></text>
<rect x="233.5" y="158.0" width="8.2" height="7.8" fill="#6a3418" stroke="#555" stroke-width="0.5"/>
<text x="245.6" y="164.3" font-size="8.5" fill="#1c1c1c">ICE<tspan font-style="italic">Kp1</tspan></text>
<rect x="233.5" y="170.0" width="8.2" height="7.8" fill="#f4a2a2" stroke="#555" stroke-width="0.5"/>
<text x="245.6" y="176.3" font-size="8.5" fill="#1c1c1c">ICE<tspan font-style="italic">Kp4</tspan></text>
<rect x="233.5" y="182.0" width="8.2" height="7.8" fill="#9a9a9a" stroke="#555" stroke-width="0.5"/>
<text x="245.6" y="188.3" font-size="8.5" text-anchor="start" fill="#1c1c1c">None</text>
<text x="233.7" y="202.5" font-size="8.5" text-anchor="start" fill="#1c1c1c">VFs</text>
<line x1="233.39999999999998" y1="205.8" x2="255.3" y2="205.8" stroke="#aaa" stroke-width="1"/>
<rect x="233.5" y="208.6" width="8.2" height="7.8" fill="#ffffff" stroke="#555" stroke-width="0.5"/>
<text x="245.6" y="214.9" font-size="8.5" text-anchor="start" fill="#1c1c1c">0</text>
<rect x="233.5" y="220.8" width="8.2" height="7.8" fill="#144c56" stroke="#555" stroke-width="0.5"/>
<text x="245.6" y="227.10000000000002" font-size="8.5" text-anchor="start" fill="#1c1c1c">1</text>
<text x="233.7" y="239.9" font-size="8.5" text-anchor="start" fill="#1c1c1c">Source</text>
<line x1="233.39999999999998" y1="243.4" x2="265.5" y2="243.4" stroke="#aaa" stroke-width="1"/>
<path d="M233.2,245.9L242,250.1L233.2,254.3Z" fill="#111"/>
<text x="246.4" y="251.9" font-size="8.5" text-anchor="start" fill="#1c1c1c">This study</text>
<text x="285.4" y="26.9" font-size="8.5" text-anchor="start" fill="#1c1c1c">Country</text>
<line x1="285.09999999999997" y1="30.4" x2="340.5" y2="30.4" stroke="#aaa" stroke-width="1"/>
<rect x="284.9" y="33.20" width="8.2" height="7.8" fill="#3a86d0" stroke="#555" stroke-width="0.5"/>
<text x="297.6" y="39.5" font-size="8.5" text-anchor="start" fill="#1c1c1c">China</text>
<rect x="284.9" y="45.18" width="8.2" height="7.8" fill="#86c440" stroke="#555" stroke-width="0.5"/>
<text x="297.6" y="51.48" font-size="8.5" text-anchor="start" fill="#1c1c1c">Singapore</text>
<rect x="284.9" y="57.16" width="8.2" height="7.8" fill="#f8c898" stroke="#555" stroke-width="0.5"/>
<text x="297.6" y="63.46" font-size="8.5" text-anchor="start" fill="#1c1c1c">Japan</text>
<rect x="284.9" y="69.14" width="8.2" height="7.8" fill="#e85a64" stroke="#555" stroke-width="0.5"/>
<text x="297.6" y="75.44" font-size="8.5" text-anchor="start" fill="#1c1c1c">Ireland</text>
<rect x="284.9" y="81.12" width="8.2" height="7.8" fill="#a0c8ec" stroke="#555" stroke-width="0.5"/>
<text x="297.6" y="87.42" font-size="8.5" text-anchor="start" fill="#1c1c1c">Vietnam</text>
<rect x="284.9" y="93.10" width="8.2" height="7.8" fill="#d4a0a4" stroke="#555" stroke-width="0.5"/>
<text x="297.6" y="99.4" font-size="8.5" text-anchor="start" fill="#1c1c1c">USA</text>
<rect x="284.9" y="105.08" width="8.2" height="7.8" fill="#8c1a30" stroke="#555" stroke-width="0.5"/>
<text x="297.6" y="111.38" font-size="8.5" text-anchor="start" fill="#1c1c1c">Russia</text>
<rect x="284.9" y="117.06" width="8.2" height="7.8" fill="#5a5e25" stroke="#555" stroke-width="0.5"/>
<text x="297.6" y="123.36" font-size="8.5" text-anchor="start" fill="#1c1c1c">Germany</text>
<rect x="284.9" y="129.04" width="8.2" height="7.8" fill="#7040a0" stroke="#555" stroke-width="0.5"/>
<text x="297.6" y="135.34" font-size="8.5" text-anchor="start" fill="#1c1c1c">Australia</text>
<rect x="284.9" y="141.02" width="8.2" height="7.8" fill="#f5c030" stroke="#555" stroke-width="0.5"/>
<text x="297.6" y="147.32" font-size="8.5" text-anchor="start" fill="#1c1c1c">India</text>
<rect x="284.9" y="153.00" width="8.2" height="7.8" fill="#f4a0c8" stroke="#555" stroke-width="0.5"/>
<text x="297.6" y="159.3" font-size="8.5" text-anchor="start" fill="#1c1c1c">Norway</text>
<rect x="284.9" y="164.98" width="8.2" height="7.8" fill="#f0e040" stroke="#555" stroke-width="0.5"/>
<text x="297.6" y="171.28" font-size="8.5" text-anchor="start" fill="#1c1c1c">United Kingdom</text>
<rect x="284.9" y="176.96" width="8.2" height="7.8" fill="#c8e8f0" stroke="#555" stroke-width="0.5"/>
<text x="297.6" y="183.26" font-size="8.5" text-anchor="start" fill="#1c1c1c">Thailand</text>
<rect x="284.9" y="188.94" width="8.2" height="7.8" fill="#d04898" stroke="#555" stroke-width="0.5"/>
<text x="297.6" y="195.24" font-size="8.5" text-anchor="start" fill="#1c1c1c">France</text>
<rect x="284.9" y="200.92" width="8.2" height="7.8" fill="#98cccc" stroke="#555" stroke-width="0.5"/>
<text x="297.6" y="207.22" font-size="8.5" text-anchor="start" fill="#1c1c1c">Saudi Arabia</text>
<rect x="284.9" y="212.90" width="8.2" height="7.8" fill="#5a3098" stroke="#555" stroke-width="0.5"/>
<text x="297.6" y="219.2" font-size="8.5" text-anchor="start" fill="#1c1c1c">Poland</text>
<rect x="284.9" y="224.88" width="8.2" height="7.8" fill="#c8c8c8" stroke="#555" stroke-width="0.5"/>
<text x="297.6" y="231.18" font-size="8.5" text-anchor="start" fill="#1c1c1c">Others</text>
<text x="367.0" y="7.0" font-size="8.5" text-anchor="start" fill="#1c1c1c">(B)</text>
<rect x="412.4" y="10.4" width="223.0" height="214.3" fill="none" stroke="#9a9a9a" stroke-width="1"/>
<line x1="410.2" y1="13.10" x2="412.4" y2="13.10" stroke="#9a9a9a" stroke-width="0.8"/>
<text x="408.2" y="16.1" font-size="8.4" text-anchor="end" fill="#1c1c1c">0.5</text>
<line x1="410.2" y1="80.20" x2="412.4" y2="80.20" stroke="#9a9a9a" stroke-width="0.8"/>
<text x="408.2" y="83.2" font-size="8.4" text-anchor="end" fill="#1c1c1c">0.0</text>
<line x1="410.2" y1="147.30" x2="412.4" y2="147.30" stroke="#9a9a9a" stroke-width="0.8"/>
<text x="408.2" y="150.3" font-size="8.4" text-anchor="end" fill="#1c1c1c">-0.5</text>
<line x1="410.2" y1="214.40" x2="412.4" y2="214.40" stroke="#9a9a9a" stroke-width="0.8"/>
<text x="408.2" y="217.4" font-size="8.4" text-anchor="end" fill="#1c1c1c">-1.0</text>
<line x1="438.20" y1="224.7" x2="438.20" y2="226.8" stroke="#9a9a9a" stroke-width="0.8"/>
<text x="438.2" y="234.2" font-size="8.4" text-anchor="middle" fill="#1c1c1c">0</text>
<line x1="486.00" y1="224.7" x2="486.00" y2="226.8" stroke="#9a9a9a" stroke-width="0.8"/>
<text x="486.0" y="234.2" font-size="8.4" text-anchor="middle" fill="#1c1c1c">1</text>
<line x1="533.80" y1="224.7" x2="533.80" y2="226.8" stroke="#9a9a9a" stroke-width="0.8"/>
<text x="533.8" y="234.2" font-size="8.4" text-anchor="middle" fill="#1c1c1c">2</text>
<line x1="581.60" y1="224.7" x2="581.60" y2="226.8" stroke="#9a9a9a" stroke-width="0.8"/>
<text x="581.6" y="234.2" font-size="8.4" text-anchor="middle" fill="#1c1c1c">3</text>
<line x1="629.40" y1="224.7" x2="629.40" y2="226.8" stroke="#9a9a9a" stroke-width="0.8"/>
<text x="629.4" y="234.2" font-size="8.4" text-anchor="middle" fill="#1c1c1c">4</text>
<text x="528.2" y="248.0" font-size="8.6" text-anchor="middle" fill="#1c1c1c">PC1 (57.5%)</text>
<text x="0" y="0" font-size="8.6" text-anchor="middle" fill="#1c1c1c" transform="translate(390.4,113) rotate(-90)">PC2 (8.31%)</text>
<circle cx="422.30" cy="20.50" r="3.7" fill="#e6a014" fill-opacity="0.88"/>
<circle cx="422.50" cy="30.50" r="3.7" fill="#e6a014" fill-opacity="0.88"/>
<circle cx="422.64" cy="34.10" r="3.7" fill="#e6a014" fill-opacity="0.88"/>
<circle cx="422.78" cy="37.70" r="3.7" fill="#e6a014" fill-opacity="0.88"/>
<circle cx="422.92" cy="41.30" r="3.7" fill="#e6a014" fill-opacity="0.88"/>
<circle cx="423.06" cy="44.90" r="3.7" fill="#e6a014" fill-opacity="0.88"/>
<circle cx="423.20" cy="48.50" r="3.7" fill="#e6a014" fill-opacity="0.88"/>
<circle cx="423.34" cy="52.10" r="3.7" fill="#e6a014" fill-opacity="0.88"/>
<circle cx="423.48" cy="55.70" r="3.7" fill="#e6a014" fill-opacity="0.88"/>
<circle cx="423.62" cy="59.30" r="3.7" fill="#e6a014" fill-opacity="0.88"/>
<circle cx="423.76" cy="62.90" r="3.7" fill="#e6a014" fill-opacity="0.88"/>
<circle cx="423.90" cy="66.50" r="3.7" fill="#e6a014" fill-opacity="0.88"/>
<circle cx="424.04" cy="70.10" r="3.7" fill="#e6a014" fill-opacity="0.88"/>
<circle cx="424.18" cy="73.70" r="3.7" fill="#e6a014" fill-opacity="0.88"/>
<circle cx="424.32" cy="77.30" r="3.7" fill="#e6a014" fill-opacity="0.88"/>
<circle cx="424.50" cy="80.00" r="3.7" fill="#e6a014" fill-opacity="0.88"/>
<circle cx="427.50" cy="102.00" r="3.7" fill="#e6a014" fill-opacity="0.66"/>
<circle cx="430.00" cy="102.00" r="3.7" fill="#e6a014" fill-opacity="0.53"/>
<circle cx="426.20" cy="142.30" r="3.7" fill="#e6a014" fill-opacity="0.48"/>
<circle cx="426.20" cy="147.20" r="3.7" fill="#e6a014" fill-opacity="0.84"/>
<circle cx="425.90" cy="165.30" r="3.7" fill="#e6a014" fill-opacity="0.48"/>
<circle cx="425.90" cy="187.00" r="3.7" fill="#e6a014" fill-opacity="0.48"/>
<circle cx="425.70" cy="199.00" r="3.7" fill="#e6a014" fill-opacity="0.88"/>
<circle cx="425.70" cy="205.80" r="3.7" fill="#e6a014" fill-opacity="0.88"/>
<circle cx="425.70" cy="211.20" r="3.7" fill="#e6a014" fill-opacity="0.53"/>
<circle cx="425.70" cy="214.60" r="3.7" fill="#e6a014" fill-opacity="0.88"/>
<circle cx="602.3" cy="79.3" r="3.7" fill="#3b78c2" fill-opacity="0.85"/>
<circle cx="615.2" cy="77.2" r="3.7" fill="#3b78c2" fill-opacity="0.85"/>
<circle cx="620.7" cy="75.7" r="3.7" fill="#3b78c2" fill-opacity="0.85"/>
<circle cx="625.0" cy="75.0" r="3.7" fill="#3b78c2" fill-opacity="0.85"/>
<circle cx="513.8" cy="31.2" r="3.5" fill="#8fb0dc"/>
<circle cx="513.8" cy="39.7" r="3.5" fill="#f0c878"/>
<text x="519.7" y="34.3" font-size="8.45" text-anchor="start" fill="#1c1c1c" fill="#111">ST218-Clade 1</text>
<text x="519.7" y="42.8" font-size="8.45" text-anchor="start" fill="#1c1c1c">ST218-Clade 2</text>
<rect x="483.2" y="119.5" width="120.0" height="74.7" fill="#fff" stroke="#9a9a9a" stroke-width="1"/>
<rect x="488.25" y="122.48" width="5.1" height="69.11" fill="#555" stroke="#444" stroke-width="0.3"/>
<rect x="493.75" y="181.50" width="5.1" height="10.10" fill="#555" stroke="#444" stroke-width="0.3"/>
<rect x="499.25" y="185.23" width="5.1" height="6.37" fill="#555" stroke="#444" stroke-width="0.3"/>
<rect x="504.75" y="186.07" width="5.1" height="5.53" fill="#555" stroke="#444" stroke-width="0.3"/>
<rect x="510.25" y="187.27" width="5.1" height="4.33" fill="#555" stroke="#444" stroke-width="0.3"/>
<rect x="515.75" y="187.99" width="5.1" height="3.61" fill="#555" stroke="#444" stroke-width="0.3"/>
<rect x="521.25" y="188.72" width="5.1" height="2.88" fill="#555" stroke="#444" stroke-width="0.3"/>
<rect x="526.75" y="189.20" width="5.1" height="2.40" fill="#555" stroke="#444" stroke-width="0.3"/>
<rect x="532.25" y="189.68" width="5.1" height="1.92" fill="#555" stroke="#444" stroke-width="0.3"/>
<rect x="537.75" y="189.98" width="5.1" height="1.62" fill="#555" stroke="#444" stroke-width="0.3"/>
<rect x="543.25" y="190.16" width="5.1" height="1.44" fill="#555" stroke="#444" stroke-width="0.3"/>
<rect x="548.75" y="190.40" width="5.1" height="1.20" fill="#555" stroke="#444" stroke-width="0.3"/>
<rect x="554.25" y="190.58" width="5.1" height="1.02" fill="#555" stroke="#444" stroke-width="0.3"/>
<rect x="559.75" y="190.76" width="5.1" height="0.84" fill="#555" stroke="#444" stroke-width="0.3"/>
<rect x="565.25" y="190.88" width="5.1" height="0.72" fill="#555" stroke="#444" stroke-width="0.3"/>
<rect x="570.75" y="191.00" width="5.1" height="0.60" fill="#555" stroke="#444" stroke-width="0.3"/>
<rect x="576.25" y="191.10" width="5.1" height="0.50" fill="#555" stroke="#444" stroke-width="0.3"/>
<rect x="581.75" y="191.18" width="5.1" height="0.42" fill="#555" stroke="#444" stroke-width="0.3"/>
<rect x="587.25" y="191.24" width="5.1" height="0.36" fill="#555" stroke="#444" stroke-width="0.3"/>
<rect x="592.75" y="191.30" width="5.1" height="0.30" fill="#555" stroke="#444" stroke-width="0.3"/>
<line x1="481.2" y1="191.60" x2="483.2" y2="191.60" stroke="#9a9a9a" stroke-width="0.8"/>
<text x="479.3" y="194.6" font-size="8.4" text-anchor="end" fill="#1c1c1c">0</text>
<line x1="481.2" y1="167.56" x2="483.2" y2="167.56" stroke="#9a9a9a" stroke-width="0.8"/>
<text x="479.3" y="170.56" font-size="8.4" text-anchor="end" fill="#1c1c1c">20</text>
<line x1="481.2" y1="143.52" x2="483.2" y2="143.52" stroke="#9a9a9a" stroke-width="0.8"/>
<text x="479.3" y="146.52" font-size="8.4" text-anchor="end" fill="#1c1c1c">40</text>
<line x1="481.2" y1="119.48" x2="483.2" y2="119.48" stroke="#9a9a9a" stroke-width="0.8"/>
<text x="479.3" y="122.48" font-size="8.4" text-anchor="end" fill="#1c1c1c">60</text>
<line x1="485.30" y1="194.2" x2="485.30" y2="196.2" stroke="#9a9a9a" stroke-width="0.8"/>
<text x="485.3" y="203.9" font-size="8.4" text-anchor="middle" fill="#1c1c1c">0</text>
<line x1="512.80" y1="194.2" x2="512.80" y2="196.2" stroke="#9a9a9a" stroke-width="0.8"/>
<text x="512.8" y="203.9" font-size="8.4" text-anchor="middle" fill="#1c1c1c">5</text>
<line x1="540.30" y1="194.2" x2="540.30" y2="196.2" stroke="#9a9a9a" stroke-width="0.8"/>
<text x="540.3" y="203.9" font-size="8.4" text-anchor="middle" fill="#1c1c1c">10</text>
<line x1="567.80" y1="194.2" x2="567.80" y2="196.2" stroke="#9a9a9a" stroke-width="0.8"/>
<text x="567.8" y="203.9" font-size="8.4" text-anchor="middle" fill="#1c1c1c">15</text>
<line x1="595.30" y1="194.2" x2="595.30" y2="196.2" stroke="#9a9a9a" stroke-width="0.8"/>
<text x="595.3" y="203.9" font-size="8.4" text-anchor="middle" fill="#1c1c1c">20</text>
<text x="544.0" y="211.5" font-size="8.5" text-anchor="middle" fill="#1c1c1c">Principal Component</text>
<text x="480.6" y="114.8" font-size="8.3" text-anchor="start" fill="#1c1c1c">Scree Plot</text>
<text x="0" y="0" font-size="8.06" text-anchor="middle" fill="#1c1c1c" transform="translate(462.4,156.5) rotate(-90)">Percentage Variance Explained</text>
<text x="1.6" y="266.9" font-size="8.5" text-anchor="start" fill="#1c1c1c">(C)</text>
<rect x="47.0" y="278.5" width="267.8" height="188.4" fill="none" stroke="#8a8a8a" stroke-width="1"/>
<path d="M59.12,458.30L59.12,311.68L59.82,308.29L60.52,305.11L61.23,302.14L61.93,299.39L62.63,296.89L63.34,294.65L64.04,292.67L64.74,290.96L65.44,289.54L66.14,288.42L66.85,287.59L67.55,287.07L68.25,286.86L68.95,286.93L69.66,287.24L70.36,287.78L71.06,288.56L71.77,289.58L72.47,290.82L73.17,292.28L73.87,293.96L74.58,295.85L75.28,297.94L75.98,300.22L76.68,302.69L77.39,305.33L78.09,308.14L78.79,311.10L79.49,314.20L80.20,317.43L80.90,320.79L81.60,324.25L82.30,327.80L83.00,331.44L83.71,335.14L84.41,338.91L85.11,342.72L85.81,346.56L86.52,350.43L87.22,354.31L87.92,358.19L88.62,362.06L89.33,365.90L90.03,369.72L90.73,373.50L91.44,377.23L92.14,380.90L92.84,384.51L93.54,388.05L94.25,391.51L94.95,394.89L95.65,398.18L96.35,401.38L97.06,404.49L97.76,407.50L98.46,410.40L99.16,413.20L99.87,415.90L100.57,418.49L101.27,420.98L101.97,423.36L102.68,425.63L103.38,427.80L104.08,429.86L104.78,431.82L105.49,433.68L106.19,435.44L106.89,437.11L107.59,438.68L108.30,440.16L109.00,441.55L109.70,442.85L110.40,444.08L111.11,445.22L111.81,446.29L112.51,447.29L113.21,448.22L113.92,449.08L114.62,449.88L115.32,450.63L116.02,451.31L116.73,451.95L117.43,452.53L118.13,453.07L118.83,453.56L119.54,454.02L120.24,454.43L120.94,454.81L121.64,455.16L122.35,455.48L123.05,455.76L123.75,456.03L124.45,456.26L125.16,456.48L125.86,456.67L126.56,456.85L127.26,457.01L127.97,457.15L128.67,457.28L129.37,457.40L130.07,457.50L130.78,457.59L131.48,457.67L132.18,457.75L132.88,457.81L133.59,457.87L134.29,457.92L134.99,457.97L135.69,458.01L136.40,458.05L137.10,458.08L137.80,458.11L138.50,458.13L139.21,458.15L139.91,458.17L140.61,458.19L141.31,458.21L142.02,458.22L142.72,458.23L143.42,458.24L144.12,458.25L144.82,458.25L145.53,458.26L146.23,458.27L146.93,458.27L147.63,458.28L148.34,458.28L149.04,458.28L149.74,458.28L150.44,458.29L151.15,458.29L151.85,458.29L152.55,458.29L153.25,458.29L153.96,458.29L154.66,458.30L155.36,458.30L156.06,458.30L156.77,458.30L157.47,458.30L158.17,458.30L158.88,458.30L159.58,458.30L160.28,458.30L160.98,458.30L161.69,458.30L162.39,458.30L163.09,458.30L163.79,458.30L164.50,458.30L165.20,458.30L165.90,458.30L166.60,458.30L167.31,458.30L168.01,458.30L168.71,458.30L169.41,458.30L170.12,458.30L170.82,458.30L171.52,458.30L172.22,458.30L172.93,458.30L173.63,458.30L174.33,458.30L175.03,458.30L175.74,458.30L176.44,458.30L177.14,458.30L177.84,458.30L178.55,458.30L179.25,458.30L179.95,458.30L180.65,458.30L181.36,458.30L182.06,458.30L182.76,458.30L183.46,458.30L184.17,458.30L184.87,458.30L185.57,458.30L186.27,458.30L186.98,458.30L187.68,458.30L188.38,458.30L189.08,458.30L189.79,458.30L190.49,458.30L191.19,458.30L191.89,458.30L192.60,458.30L193.30,458.30L194.00,458.30L194.70,458.30L195.41,458.30L196.11,458.30L196.81,458.30L197.51,458.30L198.22,458.30L198.92,458.30L199.62,458.30L200.32,458.30L201.03,458.30L201.73,458.30L202.43,458.30L203.13,458.30L203.84,458.30L204.54,458.30L205.24,458.30L205.94,458.30L206.65,458.30L207.35,458.30L208.05,458.30L208.75,458.30L209.46,458.30L210.16,458.30L210.86,458.30L211.56,458.30L212.27,458.30L212.97,458.30L213.67,458.30L214.37,458.30L215.08,458.30L215.78,458.30L216.48,458.30L217.18,458.30L217.89,458.30L218.59,458.30L219.29,458.30L219.99,458.30L220.70,458.30L221.40,458.30L222.10,458.30L222.80,458.30L223.51,458.30L224.21,458.30L224.91,458.30L225.61,458.30L226.32,458.30L227.02,458.30L227.72,458.30L228.42,458.30L229.13,458.30L229.83,458.30L230.53,458.30L231.23,458.30L231.94,458.30L232.64,458.30L233.34,458.30L234.04,458.30L234.75,458.30L235.45,458.30L236.15,458.30L236.85,458.30L237.56,458.30L238.26,458.30L238.96,458.30L239.66,458.30L240.37,458.30L241.07,458.30L241.77,458.30L242.47,458.30L243.18,458.30L243.88,458.30L244.58,458.30L245.28,458.30L245.99,458.30L246.69,458.30L247.39,458.30L248.09,458.30L248.80,458.30L249.50,458.30L250.20,458.30L250.90,458.30L251.61,458.30L252.31,458.30L253.01,458.30L253.71,458.30L254.42,458.30L255.12,458.30L255.82,458.30L256.52,458.30L257.23,458.30L257.93,458.30L258.63,458.30L259.33,458.30L260.04,458.30L260.74,458.30L261.44,458.30L262.14,458.30L262.85,458.30L263.55,458.30L264.25,458.30L264.95,458.30L265.66,458.30L266.36,458.30L267.06,458.30L267.76,458.30L268.47,458.30L269.17,458.30L269.87,458.30L270.57,458.30L271.28,458.30L271.98,458.30L272.68,458.30L273.38,458.30L274.09,458.30L274.79,458.30L275.49,458.30L276.19,458.30L276.89,458.30L277.60,458.30L278.30,458.30L279.00,458.30L279.71,458.30L280.41,458.30L281.11,458.30L281.81,458.30L282.51,458.30L283.22,458.30L283.92,458.30L284.62,458.30L285.33,458.30L286.03,458.30L286.73,458.30L287.43,458.30L288.13,458.30L288.84,458.30L289.54,458.30L290.24,458.30L290.95,458.30L291.65,458.30L292.35,458.30L293.05,458.30L293.75,458.30L294.46,458.30L295.16,458.30L295.86,458.30L296.57,458.30L297.27,458.30L297.97,458.30L298.67,458.30L299.38,458.30L300.08,458.30L300.78,458.30L301.48,458.30L302.19,458.30L302.89,458.30L303.59,458.30L304.29,458.30L305.00,458.30L305.00,458.30Z" fill="#f0cf88" stroke="#e9b94e" stroke-width="0.7"/>
<path d="M59.12,458.3L59.12,458.30L59.82,458.30L60.52,458.30L61.23,458.30L61.93,458.30L62.63,458.30L63.34,458.30L64.04,458.30L64.74,458.30L65.44,458.30L66.14,458.30L66.85,458.30L67.55,458.30L68.25,458.30L68.95,458.30L69.66,458.30L70.36,458.30L71.06,458.30L71.77,458.30L72.47,458.30L73.17,458.30L73.87,458.30L74.58,458.30L75.28,458.30L75.98,458.30L76.68,458.30L77.39,458.30L78.09,458.30L78.79,458.30L79.49,458.30L80.20,458.30L80.90,458.30L81.60,458.30L82.30,458.30L83.00,458.30L83.71,458.30L84.41,458.30L85.11,458.30L85.81,458.30L86.52,458.30L87.22,458.30L87.92,458.30L88.62,458.30L89.33,458.30L90.03,458.30L90.73,458.30L91.44,458.30L92.14,458.30L92.84,458.30L93.54,458.30L94.25,458.30L94.95,458.30L95.65,458.30L96.35,458.30L97.06,458.30L97.76,458.30L98.46,458.30L99.16,458.30L99.87,458.30L100.57,458.30L101.27,458.30L101.97,458.30L102.68,458.30L103.38,458.30L104.08,458.30L104.78,458.30L105.49,458.30L106.19,458.30L106.89,458.30L107.59,458.30L108.30,458.30L109.00,458.30L109.70,458.30L110.40,458.30L111.11,458.30L111.81,458.30L112.51,458.30L113.21,458.30L113.92,458.30L114.62,458.30L115.32,458.30L116.02,458.30L116.73,458.30L117.43,458.30L118.13,458.30L118.83,458.30L119.54,458.30L120.24,458.30L120.94,458.30L121.64,458.30L122.35,458.30L123.05,458.30L123.75,458.30L124.45,458.30L125.16,458.30L125.86,458.30L126.56,458.30L127.26,458.30L127.97,458.30L128.67,458.30L129.37,458.30L130.07,458.30L130.78,458.30L131.48,458.30L132.18,458.30L132.88,458.30L133.59,458.30L134.29,458.30L134.99,458.30L135.69,458.30L136.40,458.30L137.10,458.30L137.80,458.30L138.50,458.30L139.21,458.30L139.91,458.30L140.61,458.30L141.31,458.30L142.02,458.30L142.72,458.30L143.42,458.30L144.12,458.30L144.82,458.30L145.53,458.30L146.23,458.30L146.93,458.30L147.63,458.30L148.34,458.30L149.04,458.30L149.74,458.30L150.44,458.30L151.15,458.30L151.85,458.30L152.55,458.30L153.25,458.30L153.96,458.30L154.66,458.30L155.36,458.30L156.06,458.30L156.77,458.30L157.47,458.30L158.17,458.30L158.88,458.30L159.58,458.30L160.28,458.30L160.98,458.30L161.69,458.30L162.39,458.30L163.09,458.30L163.79,458.30L164.50,458.30L165.20,458.30L165.90,458.30L166.60,458.30L167.31,458.30L168.01,458.30L168.71,458.30L169.41,458.30L170.12,458.30L170.82,458.30L171.52,458.30L172.22,458.30L172.93,458.30L173.63,458.30L174.33,458.30L175.03,458.30L175.74,458.30L176.44,458.30L177.14,458.30L177.84,458.30L178.55,458.30L179.25,458.30L179.95,458.30L180.65,458.30L181.36,458.30L182.06,458.30L182.76,458.30L183.46,458.30L184.17,458.29L184.87,458.29L185.57,458.29L186.27,458.29L186.98,458.29L187.68,458.29L188.38,458.28L189.08,458.28L189.79,458.28L190.49,458.27L191.19,458.27L191.89,458.26L192.60,458.26L193.30,458.25L194.00,458.24L194.70,458.23L195.41,458.22L196.11,458.20L196.81,458.19L197.51,458.17L198.22,458.15L198.92,458.13L199.62,458.10L200.32,458.07L201.03,458.04L201.73,458.00L202.43,457.96L203.13,457.91L203.84,457.85L204.54,457.79L205.24,457.72L205.94,457.64L206.65,457.55L207.35,457.45L208.05,457.34L208.75,457.21L209.46,457.07L210.16,456.92L210.86,456.75L211.56,456.56L212.27,456.35L212.97,456.11L213.67,455.86L214.37,455.58L215.08,455.27L215.78,454.93L216.48,454.56L217.18,454.16L217.89,453.72L218.59,453.24L219.29,452.72L219.99,452.16L220.70,451.55L221.40,450.89L222.10,450.19L222.80,449.42L223.51,448.61L224.21,447.73L224.91,446.80L225.61,445.80L226.32,444.73L227.02,443.60L227.72,442.40L228.42,441.13L229.13,439.79L229.83,438.37L230.53,436.88L231.23,435.31L231.94,433.67L232.64,431.96L233.34,430.16L234.04,428.30L234.75,426.36L235.45,424.34L236.15,422.26L236.85,420.11L237.56,417.89L238.26,415.61L238.96,413.27L239.66,410.88L240.37,408.44L241.07,405.95L241.77,403.42L242.47,400.86L243.18,398.27L243.88,395.66L244.58,393.03L245.28,390.40L245.99,387.76L246.69,385.13L247.39,382.52L248.09,379.92L248.80,377.36L249.50,374.83L250.20,372.35L250.90,369.92L251.61,367.55L252.31,365.24L253.01,363.01L253.71,360.86L254.42,358.79L255.12,356.82L255.82,354.94L256.52,353.17L257.23,351.50L257.93,349.94L258.63,348.49L259.33,347.15L260.04,345.93L260.74,344.83L261.44,343.85L262.14,342.99L262.85,342.24L263.55,341.61L264.25,341.09L264.95,340.68L265.66,340.37L266.36,340.18L267.06,340.08L267.76,340.07L268.47,340.16L269.17,340.33L269.87,340.58L270.57,340.91L271.28,341.31L271.98,341.76L272.68,342.28L273.38,342.84L274.09,343.45L274.79,344.11L275.49,344.79L276.19,345.51L276.89,346.25L277.60,347.02L278.30,347.80L279.00,348.59L279.71,349.40L280.41,350.21L281.11,351.03L281.81,351.85L282.51,352.68L283.22,353.51L283.92,354.34L284.62,355.17L285.33,356.00L286.03,356.84L286.73,357.68L287.43,358.52L288.13,359.37L288.84,360.23L289.54,361.11L290.24,361.99L290.95,362.89L291.65,363.82L292.35,364.76L293.05,365.72L293.75,366.72L294.46,367.74L295.16,368.79L295.86,369.88L296.57,371.00L297.27,372.15L297.97,373.35L298.67,374.58L299.38,375.86L300.08,377.18L300.78,378.53L301.48,379.93L302.19,381.37L302.89,382.85L303.59,384.36L304.29,385.92L305.00,387.51L305.00,387.51L305.00,458.3Z" fill="#92b1d8" stroke="#6d95cb" stroke-width="0.6"/>
<line x1="59.12" y1="458.3" x2="305.3" y2="458.3" stroke="#d8b060" stroke-width="0.7"/>
<text x="43.8" y="461.9" font-size="8.45" text-anchor="end" fill="#1c1c1c">0.000</text>
<text x="43.8" y="407.9" font-size="8.45" text-anchor="end" fill="#1c1c1c">0.002</text>
<text x="43.8" y="353.9" font-size="8.45" text-anchor="end" fill="#1c1c1c">0.004</text>
<text x="43.8" y="299.9" font-size="8.45" text-anchor="end" fill="#1c1c1c">0.006</text>
<text x="53.5" y="476.8" font-size="8.45" text-anchor="middle" fill="#1c1c1c">200</text>
<text x="109.7" y="476.8" font-size="8.45" text-anchor="middle" fill="#1c1c1c">400</text>
<text x="165.9" y="476.8" font-size="8.45" text-anchor="middle" fill="#1c1c1c">600</text>
<text x="222.1" y="476.8" font-size="8.45" text-anchor="middle" fill="#1c1c1c">800</text>
<text x="278.3" y="476.8" font-size="8.45" text-anchor="middle" fill="#1c1c1c">1000</text>
<text x="165.5" y="487.7" font-size="8.6" text-anchor="middle" fill="#1c1c1c">SNP Number</text>
<text x="0" y="0" font-size="8.6" text-anchor="middle" fill="#1c1c1c" transform="translate(18.2,382.5) rotate(-90)">Density</text>
<circle cx="152.5" cy="307.5" r="3.4" fill="#8fb0dc"/>
<circle cx="152.5" cy="315.4" r="3.4" fill="#f0c878"/>
<text x="159.7" y="310.6" font-size="8.45" text-anchor="start" fill="#1c1c1c">ST218-Clade 1</text>
<text x="159.7" y="318.5" font-size="8.45" text-anchor="start" fill="#1c1c1c">ST218-Clade 2</text>
<text x="367.0" y="266.4" font-size="8.5" text-anchor="start" fill="#1c1c1c">(D)</text>
<line x1="424.40" y1="278.4" x2="424.40" y2="467" stroke="#e0e0e0" stroke-width="1"/>
<line x1="446.43" y1="278.4" x2="446.43" y2="467" stroke="#e0e0e0" stroke-width="1"/>
<line x1="468.46" y1="278.4" x2="468.46" y2="467" stroke="#e0e0e0" stroke-width="1"/>
<line x1="490.49" y1="278.4" x2="490.49" y2="467" stroke="#e0e0e0" stroke-width="1"/>
<line x1="512.52" y1="278.4" x2="512.52" y2="467" stroke="#e0e0e0" stroke-width="1"/>
<line x1="534.55" y1="278.4" x2="534.55" y2="467" stroke="#e0e0e0" stroke-width="1"/>
<line x1="556.58" y1="278.4" x2="556.58" y2="467" stroke="#e0e0e0" stroke-width="1"/>
<line x1="578.61" y1="278.4" x2="578.61" y2="467" stroke="#e0e0e0" stroke-width="1"/>
<line x1="600.64" y1="278.4" x2="600.64" y2="467" stroke="#e0e0e0" stroke-width="1"/>
<line x1="622.67" y1="278.4" x2="622.67" y2="467" stroke="#e0e0e0" stroke-width="1"/>
<line x1="411.4" y1="330.1" x2="635.4" y2="330.1" stroke="#e0e0e0" stroke-width="1"/>
<line x1="411.4" y1="415.9" x2="635.4" y2="415.9" stroke="#e0e0e0" stroke-width="1"/>
<rect x="411.4" y="278.4" width="224.0" height="188.6" fill="none" stroke="#666" stroke-width="1"/>
<circle cx="424.40" cy="330.1" r="5.6" fill="#354e8a"/>
<circle cx="424.40" cy="415.9" r="1.5" fill="#354e8a"/>
<circle cx="446.43" cy="330.1" r="5.6" fill="#354e8a"/>
<circle cx="446.43" cy="415.9" r="1.9" fill="#354e8a"/>
<circle cx="468.46" cy="330.1" r="5.6" fill="#354e8a"/>
<circle cx="468.46" cy="415.9" r="1.5" fill="#354e8a"/>
<circle cx="490.49" cy="330.1" r="5.5" fill="#354e8a"/>
<circle cx="490.49" cy="415.9" r="1.5" fill="#354e8a"/>
<circle cx="512.52" cy="330.1" r="5.7" fill="#354e8a"/>
<circle cx="512.52" cy="415.9" r="1.7" fill="#354e8a"/>
<circle cx="534.55" cy="330.1" r="5.0" fill="#354e8a"/>
<circle cx="534.55" cy="415.9" r="2.35" fill="#354e8a"/>
<circle cx="556.58" cy="330.1" r="0.8" fill="#354e8a"/>
<circle cx="556.58" cy="415.9" r="0.8" fill="#354e8a"/>
<circle cx="578.61" cy="330.1" r="0.8" fill="#354e8a"/>
<circle cx="578.61" cy="415.9" r="0.8" fill="#354e8a"/>
<circle cx="600.64" cy="330.1" r="5.6" fill="#354e8a"/>
<circle cx="600.64" cy="415.9" r="0.8" fill="#354e8a"/>
<circle cx="622.67" cy="330.1" r="0.8" fill="#354e8a"/>
<circle cx="622.67" cy="415.9" r="3.2" fill="#354e8a"/>
<text x="0" y="0" font-size="8.5" text-anchor="end" fill="#1c1c1c" font-style="italic" transform="translate(427.60,473.0) rotate(-45)">peg-344</text>
<text x="0" y="0" font-size="8.5" text-anchor="end" fill="#1c1c1c" font-style="italic" transform="translate(449.63,473.0) rotate(-45)">iucA</text>
<text x="0" y="0" font-size="8.5" text-anchor="end" fill="#1c1c1c" font-style="italic" transform="translate(471.66,473.0) rotate(-45)">iroN</text>
<text x="0" y="0" font-size="8.5" text-anchor="end" fill="#1c1c1c" font-style="italic" transform="translate(493.69,473.0) rotate(-45)">rmpA</text>
<text x="0" y="0" font-size="8.5" text-anchor="end" fill="#1c1c1c" font-style="italic" transform="translate(515.72,473.0) rotate(-45)">rmpA2</text>
<text x="0" y="0" font-size="8.5" text-anchor="end" fill="#1c1c1c" font-style="italic" transform="translate(537.75,473.0) rotate(-45)">ybt</text>
<text x="0" y="0" font-size="8.5" text-anchor="end" fill="#1c1c1c" font-style="italic" transform="translate(559.78,473.0) rotate(-45)">all island</text>
<text x="0" y="0" font-size="8.5" text-anchor="end" fill="#1c1c1c" transform="translate(581.81,473.0) rotate(-45)">GIE492</text>
<text x="0" y="0" font-size="8.5" text-anchor="end" fill="#1c1c1c" transform="translate(603.84,473.0) rotate(-45)">ICEkp3</text>
<text x="0" y="0" font-size="8.5" text-anchor="end" fill="#1c1c1c" transform="translate(625.87,473.0) rotate(-45)">ICEkp4</text>
<text x="0" y="0" font-size="8.3" text-anchor="middle" fill="#1c1c1c" transform="translate(401.7,327.9) rotate(-90)">ST218-Clade 2</text>
<text x="0" y="0" font-size="8.3" text-anchor="middle" fill="#1c1c1c" transform="translate(401.7,414.5) rotate(-90)">ST218-Clade 1</text>
<text x="641.8" y="349.0" font-size="8.5" text-anchor="start" fill="#1c1c1c">Percentage</text>
<circle cx="650" cy="360.8" r="0.7" fill="#354e8a"/>
<text x="659.2" y="363.8" font-size="8.5" text-anchor="start" fill="#1c1c1c">0</text>
<circle cx="650" cy="369.7" r="3.2" fill="#354e8a"/>
<text x="656.6" y="372.7" font-size="8.5" text-anchor="start" fill="#1c1c1c">25</text>
<circle cx="650" cy="379.5" r="4.4" fill="#354e8a"/>
<text x="656.6" y="382.5" font-size="8.5" text-anchor="start" fill="#1c1c1c">50</text>
<circle cx="650" cy="390.0" r="5.3" fill="#354e8a"/>
<text x="656.6" y="393.0" font-size="8.5" text-anchor="start" fill="#1c1c1c">75</text>
</svg>
</body></html>
